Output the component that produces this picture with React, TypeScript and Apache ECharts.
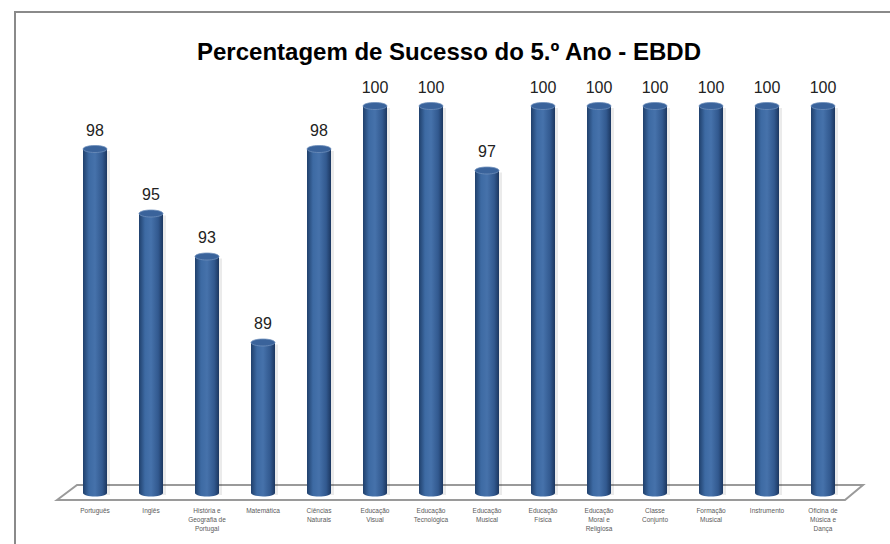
import React, { useEffect, useRef } from "react";
import * as echarts from "echarts";

const titleText = "Percentagem de Sucesso do 5.º Ano - EBDD";
const categories = [
  "Português",
  "Inglês",
  "História e\nGeografia de\nPortugal",
  "Matemática",
  "Ciências\nNaturais",
  "Educação\nVisual",
  "Educação\nTecnológica",
  "Educação\nMusical",
  "Educação\nFísica",
  "Educação\nMoral e\nReligiosa",
  "Classe\nConjunto",
  "Formação\nMusical",
  "Instrumento",
  "Oficina de\nMúsica e\nDança",
];
const values = [98, 95, 93, 89, 98, 100, 100, 97, 100, 100, 100, 100, 100, 100];
const axisMin = 82;
const axisMax = 100;

export default function App() {
  const ref = useRef<HTMLDivElement>(null);
  useEffect(() => {
    document.body.style.margin = "0";
    if (!ref.current) return;
    const chart = echarts.init(ref.current, null, { renderer: "svg" });
    const font = "Arial, 'Liberation Sans', sans-serif";
    const option: any = {
      animation: false,
      backgroundColor: "#ffffff",
      title: {
        text: titleText,
        left: 444,
        textAlign: "center",
        top: 34,
        textStyle: { fontFamily: font, fontSize: 24, fontWeight: "bold", color: "#000" },
      },
      graphic: [
        {
          type: "rect",
          z: 0,
          shape: { x: 15, y: 12, width: 900, height: 600 },
          style: { fill: "none", stroke: "#8a8a8a", lineWidth: 2 },
        },
        {
          type: "polygon",
          z: 0,
          shape: { points: [[57, 500], [77, 485], [863, 485], [845, 500]] },
          style: { fill: "#ffffff", stroke: "#9a9a9a", lineWidth: 2 },
        },
      ],
      grid: { left: 67, right: 39, top: 106, bottom: 51 },
      xAxis: {
        type: "category",
        data: categories,
        axisLine: { show: false },
        axisTick: { show: false },
        axisLabel: {
          interval: 0,
          margin: 13,
          fontFamily: font,
          fontSize: 6.5,
          lineHeight: 9,
          color: "#5a5a5a",
        },
      },
      yAxis: {
        type: "value",
        min: axisMin,
        max: axisMax,
        show: false,
        splitLine: { show: false },
      },
      series: [
        {
          type: "custom",
          z: 5,
          data: values.map((v, i) => [i, v]),
          renderItem: (params: any, api: any) => {
            const top = api.coord([api.value(0), api.value(1)]);
            const base = api.coord([api.value(0), axisMin]);
            const w = 24;
            const rx = w / 2;
            const ry = 3.5;
            const cx = top[0];
            const grad = new echarts.graphic.LinearGradient(0, 0, 1, 0, [
              { offset: 0, color: "#20406c" },
              { offset: 0.25, color: "#3d6aa3" },
              { offset: 0.5, color: "#4672ab" },
              { offset: 0.8, color: "#32598f" },
              { offset: 1, color: "#1c3760" },
            ]);
            return {
              type: "group",
              children: [
                {
                  type: "rect",
                  shape: { x: cx - rx + 3, y: top[1] + 2, width: w, height: base[1] - top[1] },
                  style: { fill: "rgba(0,0,0,0.08)" },
                },
                {
                  type: "ellipse",
                  shape: { cx, cy: base[1], rx, ry },
                  style: { fill: grad },
                },
                {
                  type: "rect",
                  shape: { x: cx - rx, y: top[1], width: w, height: base[1] - top[1] },
                  style: { fill: grad },
                },
                {
                  type: "ellipse",
                  shape: { cx, cy: top[1], rx, ry },
                  style: { fill: "#3a639b", stroke: "#6f8fbb", lineWidth: 0.8 },
                },
                {
                  type: "text",
                  style: {
                    text: String(api.value(1)),
                    x: cx,
                    y: top[1] - 11,
                    align: "center",
                    verticalAlign: "bottom",
                    fontFamily: font,
                    fontSize: 16,
                    fill: "#222",
                  },
                },
              ],
            };
          },
        },
      ],
    };
    chart.setOption(option);
    return () => chart.dispose();
  }, []);
  return <div ref={ref} style={{ width: 890, height: 544 }} />;
}
